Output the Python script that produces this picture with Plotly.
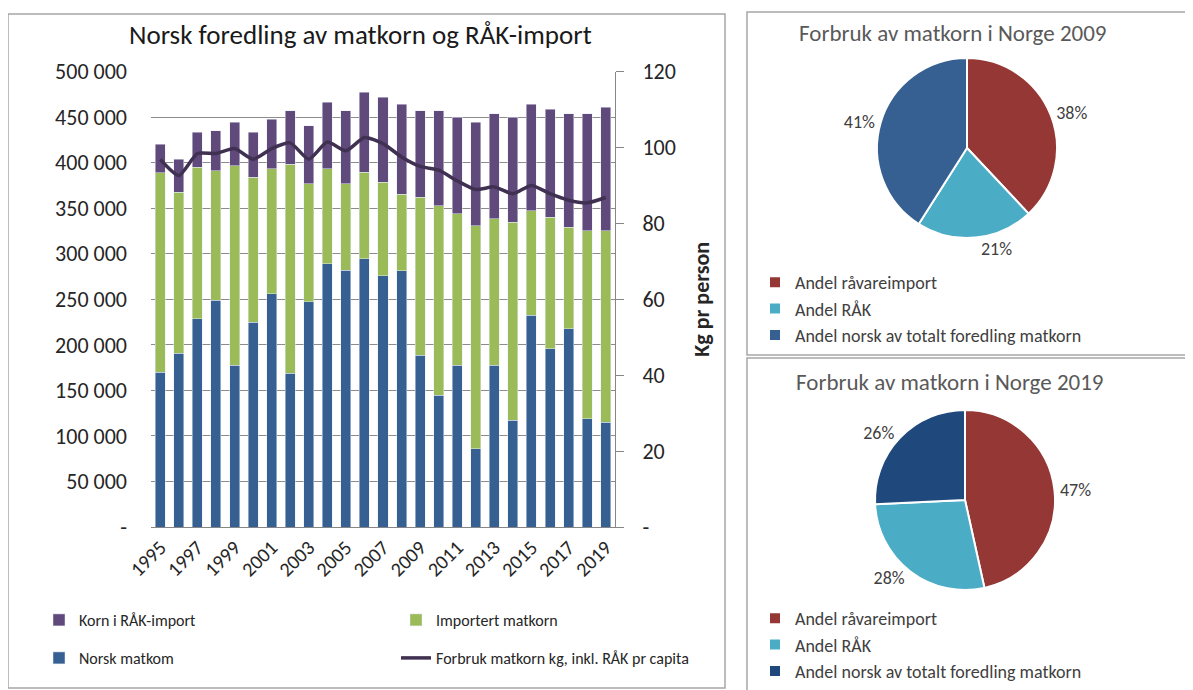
"""
Norsk foredling av matkorn og RÅK-import: stablede søyler + linje, og to kakediagram.
"""

import plotly.graph_objects as go

# the page body has an 8 px margin, so the figure is drawn 8 px smaller
OFF = 8
W, H = 1193 - OFF, 690 - OFF

years = [str(y) for y in range(1995, 2020)]
year_ticks = [str(y) for y in range(1995, 2020, 2)]

norsk_matkorn = [170000, 190500, 228600, 248800, 177700, 225000, 256100, 168600, 247000,
                 289000, 281800, 294200, 275900, 281400, 188400, 144400, 177300, 86100,
                 177300, 117200, 232300, 195600, 217600, 118700, 115100]
importert_matkorn = [219000, 177000, 166400, 142400, 219000, 159000, 137000, 229700, 129600,
                     104100, 94800, 95300, 102300, 83900, 173600, 208400, 166400, 244700,
                     160900, 217300, 115000, 144400, 111400, 206600, 210200]
korn_raak = [31200, 36200, 38400, 43700, 47700, 49400, 54600, 58600, 63800, 72900, 80300,
             87500, 93300, 98900, 94900, 104100, 106200, 113600, 115400, 115400, 116900,
             118700, 124600, 128300, 135200]
forbruk_kg = [96.8, 92.6, 98.4, 98.4, 99.7, 96.9, 99.7, 101.2, 96.9, 101.4, 99.1, 102.6,
              101.0, 97.5, 95.0, 94.0, 91.2, 88.9, 89.6, 87.8, 90.0, 87.8, 86.1, 85.4, 86.8]

left_ticks = list(range(0, 500001, 50000))
left_ticktext = ["-"] + [f"{v // 1000} 000" for v in left_ticks[1:]]
right_ticks = list(range(0, 121, 20))
right_ticktext = ["-"] + [str(v) for v in right_ticks[1:]]

pie_labels = ["Andel råvareimport", "Andel RÅK", "Andel norsk av totalt foredling matkorn"]
pie_2009 = [38, 21, 41]
pie_2019 = [47, 28, 26]

FONT = "Carlito, 'Liberation Sans', Arial, sans-serif"
C_NORSK = "#376092"
C_IMPORT = "#9BBB59"
C_RAAK = "#604A7B"
C_LINE = "#403152"


def px_x(v):
    return (v - OFF) / W


def px_y(v):
    return 1 - (v - OFF) / H


fig = go.Figure()

fig.add_trace(go.Bar(x=years, y=norsk_matkorn, name="Norsk matkom", marker_color=C_NORSK,
                     legend="legend4", legendrank=1))
fig.add_trace(go.Bar(x=years, y=importert_matkorn, name="Importert matkorn",
                     marker_color=C_IMPORT, legend="legend", legendrank=2))
fig.add_trace(go.Bar(x=years, y=korn_raak, name="Korn i RÅK-import", marker_color=C_RAAK,
                     legend="legend", legendrank=1))
fig.add_trace(go.Scatter(x=years, y=forbruk_kg, yaxis="y2", mode="lines",
                         name="Forbruk matkorn kg, inkl. RÅK pr capita",
                         line=dict(color=C_LINE, width=3.5, shape="spline", smoothing=0.6),
                         legend="legend4", legendrank=2))

pie_text = dict(size=18, color="#404040", family=FONT)
fig.add_trace(go.Pie(labels=pie_labels, values=pie_2009, sort=False, direction="clockwise",
                     rotation=0, texttemplate="%{value}%", textposition="outside",
                     textfont=pie_text,
                     marker=dict(colors=["#953735", "#4BACC6", "#366092"],
                                 line=dict(color="white", width=2)),
                     domain=dict(x=[px_x(877), px_x(1057)], y=[px_y(238), px_y(58)]),
                     legend="legend2", hoverinfo="label+percent"))
# trailing space keeps the 2019 slices apart from the 2009 ones in the legends
fig.add_trace(go.Pie(labels=[lab + " " for lab in pie_labels], values=pie_2019, sort=False,
                     direction="clockwise", rotation=0, texttemplate="%{value}%",
                     textposition="outside", textfont=pie_text,
                     marker=dict(colors=["#953735", "#4BACC6", "#1F497D"],
                                 line=dict(color="white", width=2)),
                     domain=dict(x=[px_x(875), px_x(1055)], y=[px_y(590), px_y(410)]),
                     legend="legend3", hoverinfo="label+percent"))

panel_line = dict(color="#A6A6A6", width=1.5)
shapes = [
    dict(type="rect", xref="paper", yref="paper", x0=px_x(8), x1=px_x(725),
         y0=px_y(688), y1=px_y(14), line=panel_line),
    dict(type="rect", xref="paper", yref="paper", x0=px_x(747), x1=px_x(1192),
         y0=px_y(355), y1=px_y(12), line=panel_line),
    dict(type="rect", xref="paper", yref="paper", x0=px_x(747), x1=px_x(1192),
         y0=px_y(692), y1=px_y(358), line=panel_line),
]

legend_font = dict(family=FONT, size=16, color="#262626")
pie_legend_font = dict(family=FONT, size=18, color="#404040")

fig.update_layout(
    width=W, height=H,
    margin=dict(l=0, r=0, t=0, b=0),
    paper_bgcolor="white", plot_bgcolor="white",
    font=dict(family=FONT, color="#262626"),
    barmode="stack", bargap=0.46,
    shapes=shapes,
    xaxis=dict(domain=[px_x(151), px_x(615)], type="category", tickvals=year_ticks,
               tickangle=-45, tickfont=dict(size=20), showgrid=False, showline=True,
               linecolor="#868686", linewidth=1, ticks="", automargin=False),
    yaxis=dict(domain=[px_y(527), px_y(71.5)], range=[0, 500000], tickvals=left_ticks,
               ticktext=left_ticktext, tickfont=dict(size=22), showgrid=True,
               gridcolor="#8C8C8C", gridwidth=1, zeroline=False, showline=False,
               ticks="", ticklabelstandoff=23, automargin=False),
    yaxis2=dict(overlaying="y", side="right", range=[0, 120], tickvals=right_ticks,
                ticktext=right_ticktext, tickfont=dict(size=22), showgrid=False,
                zeroline=False, showline=True, linecolor="#868686", linewidth=1,
                ticks="outside", ticklen=8, tickcolor="#868686", ticklabelstandoff=14,
                title=dict(text="<b>Kg pr person</b>", font=dict(size=22), standoff=18),
                automargin=False),
    legend=dict(orientation="h", x=px_x(39), y=px_y(603), yanchor="top", xanchor="left",
                entrywidth=312, entrywidthmode="pixels", font=legend_font,
                traceorder="normal", bgcolor="rgba(0,0,0,0)"),
    legend4=dict(orientation="h", x=px_x(39), y=px_y(641), yanchor="top", xanchor="left",
                 entrywidth=312, entrywidthmode="pixels", font=legend_font,
                 traceorder="normal", bgcolor="rgba(0,0,0,0)"),
    legend2=dict(x=px_x(755), y=px_y(264), yanchor="top", xanchor="left",
                 font=pie_legend_font, bgcolor="rgba(0,0,0,0)", tracegroupgap=0),
    legend3=dict(x=px_x(755), y=0, yanchor="bottom", xanchor="left",
                 font=pie_legend_font, bgcolor="rgba(0,0,0,0)", tracegroupgap=0),
    annotations=[
        dict(text="Norsk foredling av matkorn og RÅK-import", xref="paper", yref="paper",
             x=px_x(360), y=px_y(35), xanchor="center", yanchor="middle", showarrow=False,
             font=dict(size=27, color="#1a1a1a")),
        dict(text="Forbruk av matkorn i Norge 2009", xref="paper", yref="paper",
             x=px_x(953), y=px_y(33), xanchor="center", yanchor="middle", showarrow=False,
             font=dict(size=23, color="#595959")),
        dict(text="Forbruk av matkorn i Norge 2019", xref="paper", yref="paper",
             x=px_x(950), y=px_y(382), xanchor="center", yanchor="middle", showarrow=False,
             font=dict(size=23, color="#595959")),
    ],
)

fig.write_html("out.html")
